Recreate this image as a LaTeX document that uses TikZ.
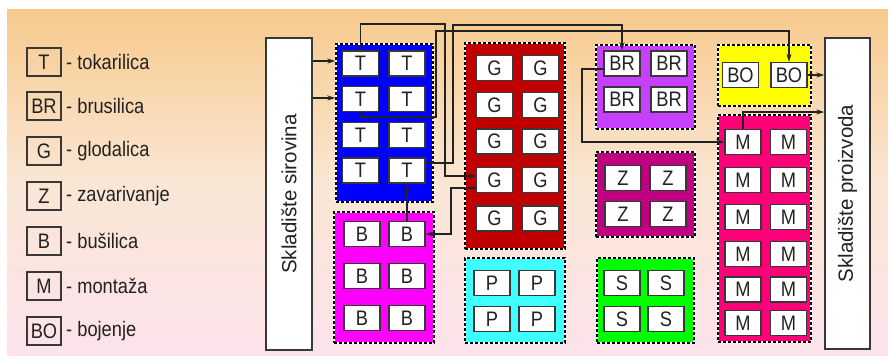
\documentclass[tikz,border=0pt]{standalone}
\usepackage{fontspec}
\setmainfont{Liberation Sans}
\newfontfamily\labfont[FakeStretch=0.87]{Liberation Sans}
\usetikzlibrary{arrows.meta}
\definecolor{bgtop}{RGB}{247,202,140}
\definecolor{bgmid}{RGB}{250,230,212}
\definecolor{bgbot}{RGB}{252,227,236}
\definecolor{cT}{RGB}{0,0,255}
\definecolor{cB}{RGB}{255,0,255}
\definecolor{cG}{RGB}{192,0,0}
\definecolor{cP}{RGB}{64,255,255}
\definecolor{cS}{RGB}{0,255,0}
\definecolor{cZ}{RGB}{191,0,128}
\definecolor{cR}{RGB}{200,64,255}
\definecolor{cO}{RGB}{255,255,0}
\definecolor{cM}{RGB}{255,0,120}
\definecolor{ink}{RGB}{34,34,34}
\begin{document}
\begin{tikzpicture}[x=1pt,y=-1pt,
  mach/.style={draw=ink!90, fill=white, line width=1.4pt, minimum width=36pt,
    minimum height=25pt, inner sep=0pt, text=ink, font=\labfont\fontsize{21}{24}\selectfont},
  legbox/.style={draw=ink!90, fill=none, line width=1.1pt, minimum width=34pt,
    minimum height=28pt, inner sep=0pt, text=ink, font=\labfont\fontsize{21}{24}\selectfont},
  legtxt/.style={anchor=west, inner sep=0pt, text=ink, font=\labfont\fontsize{21}{24}\selectfont},
  grp/.style={fill=#1, draw=white, line width=1.4pt, inner sep=0pt,
    postaction={draw=black, line width=1.4pt, dash pattern=on 3pt off 2pt}},
  store/.style={draw=ink!90, fill=white, line width=1.4pt, inner sep=0pt},
  storetxt/.style={rotate=90, text=ink, font=\fontsize{20.5}{24}\selectfont},
  conn/.style={draw=ink, line width=1.3pt},
  arr/.style={conn, -{Stealth[length=8pt,width=5pt]}}
]
\useasboundingbox (0,0) rectangle (888,360);
\shade[top color=bgtop, bottom color=bgbot, middle color=bgmid] (7,9) rectangle (888,355);

% legend
\foreach \lbl/\txt/\yy in {T/tokarilica/62, BR/brusilica/106, G/glodalica/151,
  Z/zavarivanje/196, B/bušilica/241, M/montaža/286, BO/bojenje/331}{
  \node[legbox] (leg\lbl) at (44,\yy) {\lbl};
  \node[legtxt] (legt\lbl) at (66,\yy) {- \txt};
}

% storages
\node[store, minimum width=46pt, minimum height=312pt] (sir) at (289,194) {};
\node[storetxt] (sirt) at (sir.center) {Skladište sirovina};
\node[store, minimum width=45pt, minimum height=311pt] (pro) at (847.5,193.5) {};
\node[storetxt] (prot) at (pro.center) {Skladište proizvoda};

% groups
\node[grp=cT, minimum width=97pt, minimum height=158pt] (gT) at (384.5,123) {};
\node[grp=cB, minimum width=100pt, minimum height=131pt] (gB) at (384,277.5) {};
\node[grp=cG, minimum width=100pt, minimum height=206pt] (gG) at (515,146) {};
\node[grp=cP, minimum width=100pt, minimum height=85pt] (gP) at (515,300.5) {};
\node[grp=cS, minimum width=97pt, minimum height=85pt] (gS) at (645.5,300.5) {};
\node[grp=cZ, minimum width=99pt, minimum height=85pt] (gZ) at (645.5,194.5) {};
\node[grp=cR, minimum width=99pt, minimum height=84pt] (gR) at (645.5,87) {};
\node[grp=cO, minimum width=93pt, minimum height=61pt] (gO) at (764.5,75.5) {};
\node[grp=cM, minimum width=93pt, minimum height=227pt] (gM) at (764.5,228.5) {};

% machines
\foreach \yy [count=\r] in {63.5,99,135,170.5}
  \foreach \xx [count=\c] in {360.5,407}
    \node[mach] (t\r\c) at (\xx,\yy) {T};
\foreach \yy [count=\r] in {234,276,318}
  \foreach \xx [count=\c] in {362,407}
    \node[mach] (b\r\c) at (\xx,\yy) {B};
\foreach \yy [count=\r] in {68,105,141.5,180,218.5}
  \foreach \xx [count=\c] in {494.5,540.5}
    \node[mach] (g\r\c) at (\xx,\yy) {G};
\foreach \yy [count=\r] in {283,319}
  \foreach \xx [count=\c] in {492,537}
    \node[mach] (p\r\c) at (\xx,\yy) {P};
\foreach \yy [count=\r] in {283,319}
  \foreach \xx [count=\c] in {622,666}
    \node[mach] (s\r\c) at (\xx,\yy) {S};
\foreach \yy [count=\r] in {178,214}
  \foreach \xx [count=\c] in {623,668}
    \node[mach] (z\r\c) at (\xx,\yy) {Z};
\foreach \yy [count=\r] in {63.5,99.5}
  \foreach \xx [count=\c] in {622,669}
    \node[mach] (r\r\c) at (\xx,\yy) {BR};
\foreach \xx [count=\c] in {740.5,789}
  \node[mach] (o1\c) at (\xx,75) {BO};
\foreach \yy [count=\r] in {142,180,217,254,289.5,323}
  \foreach \xx [count=\c] in {743,788.5}
    \node[mach] (m\r\c) at (\xx,\yy) {M};

% connectors
\draw[arr] (sir.east |- 0,61) -- (gT.west |- 0,61);
\draw[arr] (sir.east |- 0,98) -- (gT.west |- 0,98);
\draw[arr] (t11.north) |- (445,24) |- (g41.west |- 0,176);
\draw[arr] (t42.east |- 0,163) -| (453,25) -| (r11.north);
\draw[arr] (t21.south) |- (436,117) |- (789,31) -| (o12.north);
\draw[arr] (g41.west |- 0,188) -| (451,234) -- (b12.east);
\draw[arr] (b12.north) -- (t42.south);
\draw[arr] (r11.west |- 0,69) -| (582,142) -- (m11.west);
\draw[arr] (m11.north) |- (pro.west |- 0,112);
\draw[arr] (o12.east) -- (pro.west |- o12.east);
\end{tikzpicture}
\end{document}
